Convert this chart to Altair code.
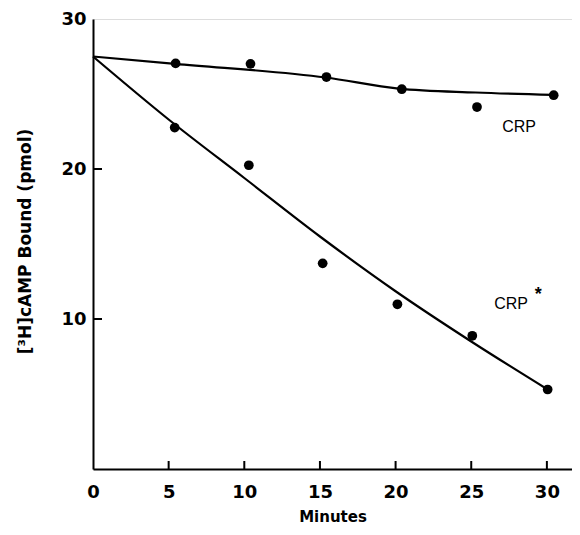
import altair as alt
import pandas as pd

# Measured data points (minutes, pmol bound)
time_crp = [5.46, 10.41, 15.43, 20.41, 25.38, 30.45]
bound_crp = [27.04, 27.01, 26.13, 25.32, 24.13, 24.92]
time_star = [5.40, 10.30, 15.18, 20.12, 25.07, 30.05]
bound_star = [22.76, 20.25, 13.71, 10.98, 8.88, 5.30]

# Fitted curves
fit_crp_t = [0, 5.42, 15.38, 20.2, 25.29, 30.4]
fit_crp_y = [27.5, 27.01, 26.1, 25.36, 25.10, 24.94]
fit_star_t = [0, 5, 10, 15, 20, 25, 30.05]
fit_star_y = [27.5, 23.3, 19.4, 15.5, 11.85, 8.5, 5.3]

x_ticks = [0, 5, 10, 15, 20, 25, 30]
y_ticks = [10, 20, 30]
inner_x_ticks = [5, 10, 15, 20, 25, 30]
inner_y_ticks = [10, 20]

labels = ["CRP", "CRP"]
label_x = [28.16, 27.63]
label_y = [22.8, 11.0]
star_x = [29.43]
star_y = [11.6]

W, H = 479, 450
X_MAX = 31.66

pts = pd.DataFrame({
    "t": time_crp + time_star,
    "b": bound_crp + bound_star,
    "s": ["CRP"] * len(time_crp) + ["CRP*"] * len(time_star),
})
fits = pd.DataFrame({
    "t": fit_crp_t + fit_star_t,
    "b": fit_crp_y + fit_star_y,
    "s": ["CRP"] * len(fit_crp_t) + ["CRP*"] * len(fit_star_t),
})

xs = alt.Scale(domain=[0, X_MAX], nice=False, zero=False)
ys = alt.Scale(domain=[0, 30], nice=False)

xax = alt.Axis(values=x_ticks, title="Minutes", ticks=False, grid=False,
               labelPadding=14, labelFontSize=18, labelFont="DejaVu Sans",
               labelFontWeight="bold", labelColor="black",
               titleFont="DejaVu Sans", titleFontSize=15, titleFontWeight="bold",
               titleColor="black", titleX=W / 2, titleY=47, titleBaseline="middle",
               domainColor="black", domainWidth=2, labelFlush=False)
yax = alt.Axis(values=y_ticks, title="[³H]cAMP Bound (pmol)", ticks=False, grid=False,
               labelPadding=7, labelFontSize=18, labelFont="DejaVu Sans",
               labelFontWeight="bold", labelColor="black",
               titleFont="DejaVu Sans", titleFontSize=17, titleFontWeight="bold",
               titleColor="black", titleAngle=-90, titleX=-68, titleY=H / 2 - 3,
               titleAlign="center", titleBaseline="middle",
               domainColor="black", domainWidth=2, labelFlush=False)

points = alt.Chart(pts).mark_circle(size=95, color="black", opacity=1).encode(
    x=alt.X("t:Q", scale=xs, axis=xax),
    y=alt.Y("b:Q", scale=ys, axis=yax),
    detail="s:N",
)

lines = alt.Chart(fits).mark_line(color="black", strokeWidth=2.2, interpolate="monotone").encode(
    x=alt.X("t:Q", scale=xs),
    y=alt.Y("b:Q", scale=ys),
    detail="s:N",
)

xt = alt.Chart(pd.DataFrame({"v": inner_x_ticks})).mark_rule(color="black", strokeWidth=2).encode(
    x=alt.X("v:Q", scale=xs), y=alt.value(H), y2=alt.value(H - 8)
)
yt = alt.Chart(pd.DataFrame({"v": inner_y_ticks})).mark_rule(color="black", strokeWidth=2).encode(
    y=alt.Y("v:Q", scale=ys), x=alt.value(0), x2=alt.value(9)
)

lab = alt.Chart(pd.DataFrame({"x": label_x, "y": label_y, "l": labels})).mark_text(
    font="Liberation Sans", fontSize=16, color="black"
).encode(x=alt.X("x:Q", scale=xs), y=alt.Y("y:Q", scale=ys), text="l:N")

star = alt.Chart(pd.DataFrame({"x": star_x, "y": star_y, "l": ["*"]})).mark_text(
    font="Liberation Sans", fontSize=18, fontWeight="bold", color="black"
).encode(x=alt.X("x:Q", scale=xs), y=alt.Y("y:Q", scale=ys), text="l:N")

chart = alt.layer(lines, points, xt, yt, lab, star).properties(
    width=W, height=H,
    autosize=alt.AutoSizeParams(type="none"),
    padding={"left": 85, "top": 11, "right": 0, "bottom": 58},
).configure_view(stroke="black", strokeWidth=2).configure(background="white")

chart.save("out.html", embed_options={"renderer": "svg", "actions": False})
